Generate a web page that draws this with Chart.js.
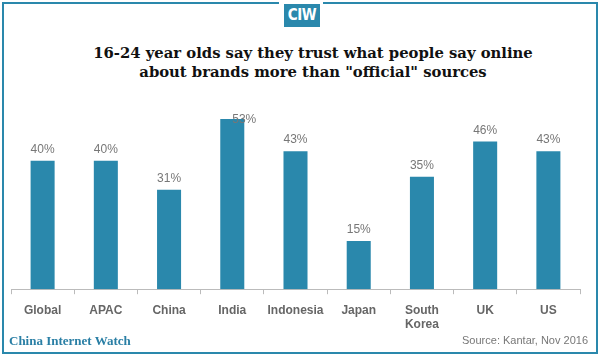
<!DOCTYPE html>
<html>
<head>
<meta charset="utf-8">
<script src="https://cdn.jsdelivr.net/npm/chart.js@4.4.0/dist/chart.umd.min.js"></script>
<style>
  html, body { margin: 0; padding: 0; background: #fff; }
  #wrap { position: relative; width: 600px; height: 356px; overflow: hidden; background: #fff; }
  #frame { position: absolute; left: 2px; top: 2px; width: 592px; height: 348px; border: 2px solid #2a88ac; }
  #logoGap { position: absolute; left: 279px; top: 0; width: 44px; height: 8px; background: #fff; }
  #logo { position: absolute; left: 284px; top: 4px; width: 36px; height: 23px; background: #2a88ac; color: #fff;
          font: bold 15px "Liberation Sans Narrow", "DejaVu Sans Condensed", "Liberation Sans", sans-serif; text-align: center; line-height: 23px; letter-spacing: -0.5px; }
  #title { position: absolute; left: 13px; top: 43px; width: 600px; text-align: center; color: #111;
           font: bold 14.8px "DejaVu Serif", "Liberation Serif", serif; line-height: 19px; }
  #brand { position: absolute; left: 9px; top: 333px; color: #2a7fa5; font: bold 13px "Liberation Serif", serif; }
  #source { position: absolute; right: 12px; top: 334px; color: #777; font: 11px "Liberation Sans", sans-serif; }
  #cwrap { position: absolute; left: 0; top: 93px; width: 600px; height: 248px; }
</style>
</head>
<body>
<div id="wrap">
  <div id="frame"></div>
  <div id="logoGap"></div>
  <div id="logo">CIW</div>
  <div id="title">16-24 year olds say they trust what people say online<br>about brands more than "official" sources</div>
  <div id="cwrap"><canvas id="c"></canvas></div>
  <div id="brand">China Internet Watch</div>
  <div id="source">Source: Kantar, Nov 2016</div>
</div>
<script>
const categories = ['Global', 'APAC', 'China', 'India', 'Indonesia', 'Japan', ['South', 'Korea'], 'UK', 'US'];
const trustValues = [40, 40, 31, 53, 43, 15, 35, 46, 43];

const valueLabels = {
  id: 'valueLabels',
  afterDatasetsDraw(chart) {
    const ctx = chart.ctx;
    const meta = chart.getDatasetMeta(0);
    const data = chart.data.datasets[0].data;
    const maxV = Math.max(...data);
    ctx.save();
    ctx.font = '12px "Liberation Sans", sans-serif';
    ctx.fillStyle = '#777';
    ctx.textAlign = 'center';
    ctx.textBaseline = 'bottom';
    meta.data.forEach((bar, i) => {
      let x = bar.x, y = bar.y - 5;
      if (data[i] === maxV) { x += 12; y = bar.y + 7; }
      ctx.fillText(data[i] + '%', x, y);
    });
    ctx.restore();
  }
};

new Chart(document.getElementById('c'), {
  type: 'bar',
  data: {
    labels: categories,
    datasets: [{
      data: trustValues,
      backgroundColor: '#2a88ac',
      borderWidth: 0,
      barPercentage: 0.38,
      categoryPercentage: 1.0
    }]
  },
  options: {
    responsive: true,
    maintainAspectRatio: false,
    animation: false,
    layout: { padding: { left: 11, right: 20, top: 10, bottom: 0 } },
    plugins: { legend: { display: false }, tooltip: { enabled: false } },
    scales: {
      x: {
        grid: { display: true, drawOnChartArea: false, offset: true, tickLength: 5, color: '#bbb' },
        border: { display: true, color: '#bbb', width: 1 },
        ticks: { color: '#666', font: { family: '"Liberation Sans", sans-serif', size: 12, weight: 'bold' }, padding: 9, maxRotation: 0, autoSkip: false }
      },
      y: { display: false, min: 0, max: 58 }
    }
  },
  plugins: [valueLabels]
});
</script>
</body>
</html>
